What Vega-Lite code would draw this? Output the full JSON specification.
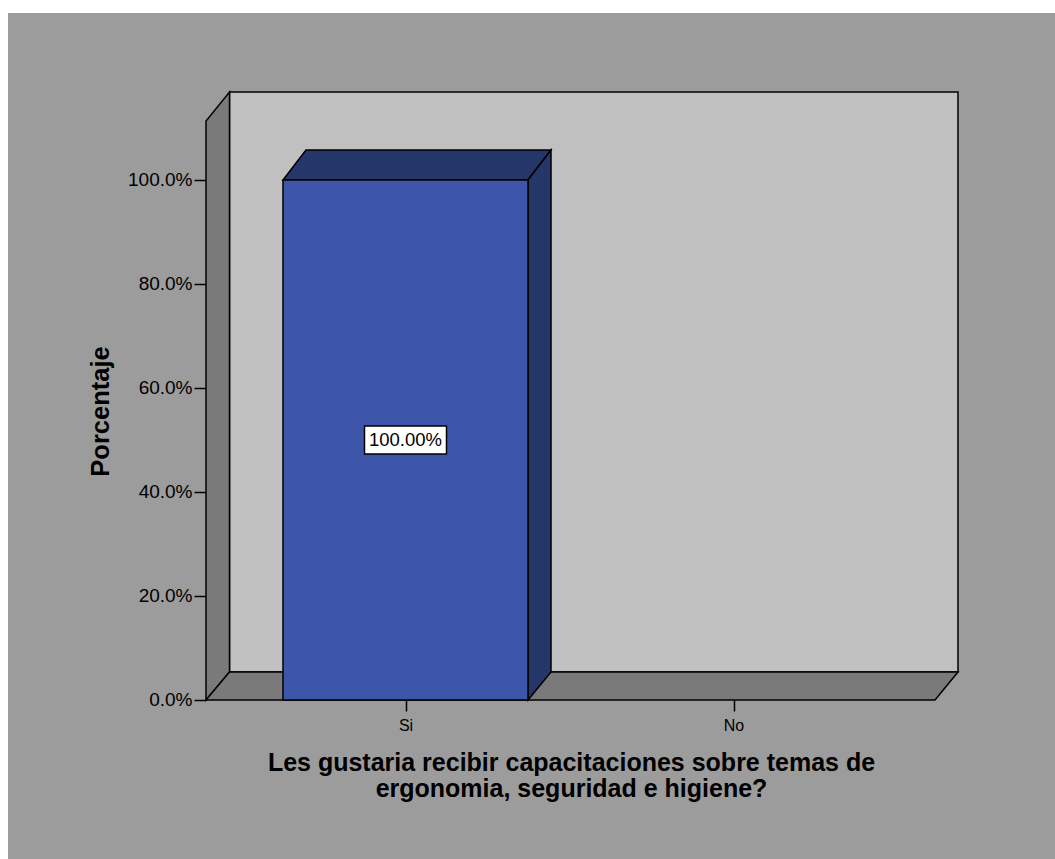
{
  "$schema": "https://vega.github.io/schema/vega-lite/v6.json",
  "width": 1047,
  "height": 846,
  "autosize": "none",
  "padding": {"left": 8, "top": 13, "right": 0, "bottom": 0},
  "background": "white",
  "config": {
    "view": {"fill": "#9c9c9c", "stroke": null},
    "font": "Liberation Sans",
    "axis": {"grid": false, "domain": false}
  },
  "datasets": {
    "respuestas": [
      {"respuesta": "Si", "porcentaje": 1.0},
      {"respuesta": "No", "porcentaje": 0.0}
    ],
    "marco": [
      {"k": 0, "x": 0.39177, "xr": 2.61433, "y": 0, "ytop": 1.11346},
      {"k": 1, "x": 0.46341, "xr": 2.68445, "y": 0.05385, "ytop": 1.16923}
    ]
  },
  "layer": [
    {
      "data": {"name": "marco"},
      "transform": [{"filter": "datum.k == 1"}],
      "mark": {"type": "rect", "fill": "#c0c0c0", "stroke": "black", "strokeWidth": 1.5},
      "encoding": {
        "x": {
          "field": "x", "type": "quantitative",
          "scale": {"domain": [-0.21189, 2.98018], "nice": false, "zero": false},
          "axis": {
            "values": [1, 2],
            "labelExpr": "datum.value == 1 ? 'Si' : 'No'",
            "offset": -159,
            "tickSize": 11, "tickColor": "black", "tickWidth": 1.5,
            "labelFontSize": 16, "labelColor": "black", "labelPadding": 6,
            "labelFont": "Liberation Sans",
            "title": ["Les gustaria recibir capacitaciones sobre temas de", "ergonomia, seguridad e higiene?"],
            "titleFont": "Liberation Sans", "titleFontSize": 25, "titleFontWeight": "bold", "titleColor": "black",
            "titleX": 563, "titleY": 50, "titleAlign": "center", "titleBaseline": "top", "titleLineHeight": 26
          }
        },
        "x2": {"field": "xr"},
        "y": {
          "field": "y", "type": "quantitative",
          "scale": {"domain": [-0.30577, 1.32115], "nice": false, "zero": false},
          "axis": {
            "values": [0, 0.2, 0.4, 0.6, 0.8, 1.0],
            "format": ".1%",
            "offset": -198,
            "tickSize": 12, "tickColor": "black", "tickWidth": 1.5,
            "labelFontSize": 19, "labelColor": "black", "labelPadding": 2,
            "labelFont": "Liberation Sans",
            "title": "Porcentaje",
            "titleFont": "Liberation Sans", "titleFontSize": 25.5, "titleFontWeight": "bold", "titleColor": "black",
            "titleAngle": -90, "titleX": -106, "titleY": 398, "titleAlign": "center", "titleBaseline": "middle"
          }
        },
        "y2": {"field": "ytop"}
      }
    },
    {
      "data": {"name": "marco"},
      "mark": {"type": "area", "orient": "vertical", "fill": "#7a7a7a", "stroke": "black", "strokeWidth": 1.5},
      "encoding": {
        "x": {"field": "x", "type": "quantitative"},
        "y": {"field": "y", "type": "quantitative", "stack": null},
        "y2": {"field": "ytop"}
      }
    },
    {
      "data": {"name": "marco"},
      "mark": {"type": "area", "orient": "horizontal", "fill": "#7a7a7a", "stroke": "black", "strokeWidth": 1.5},
      "encoding": {
        "y": {"field": "y", "type": "quantitative"},
        "x": {"field": "x", "type": "quantitative", "stack": null},
        "x2": {"field": "xr"}
      }
    },
    {
      "data": {"name": "respuestas"},
      "transform": [
        {"filter": "datum.porcentaje > 0"},
        {"calculate": "indexof(['Si','No'], datum.respuesta) + 1", "as": "idx"},
        {"calculate": "[0, 1]", "as": "k"},
        {"flatten": ["k"]},
        {"calculate": "datum.porcentaje + datum.k * 0.05769", "as": "yy"},
        {"calculate": "datum.idx - 0.37348 + datum.k * 0.07012", "as": "xa"},
        {"calculate": "datum.idx + 0.37348 + datum.k * 0.07012", "as": "xb"}
      ],
      "mark": {"type": "area", "orient": "horizontal", "fill": "#253668", "stroke": "black", "strokeWidth": 1.5},
      "encoding": {
        "y": {"field": "yy", "type": "quantitative"},
        "x": {"field": "xa", "type": "quantitative", "stack": null},
        "x2": {"field": "xb"}
      }
    },
    {
      "data": {"name": "respuestas"},
      "transform": [
        {"filter": "datum.porcentaje > 0"},
        {"calculate": "indexof(['Si','No'], datum.respuesta) + 1", "as": "idx"},
        {"calculate": "[0, 1]", "as": "k"},
        {"flatten": ["k"]},
        {"calculate": "datum.idx + 0.37348 + datum.k * 0.07012", "as": "xs"},
        {"calculate": "datum.k * 0.05385", "as": "ylo"},
        {"calculate": "datum.porcentaje + datum.k * 0.05769", "as": "yhi"}
      ],
      "mark": {"type": "area", "orient": "vertical", "fill": "#253668", "stroke": "black", "strokeWidth": 1.5},
      "encoding": {
        "x": {"field": "xs", "type": "quantitative"},
        "y": {"field": "ylo", "type": "quantitative", "stack": null},
        "y2": {"field": "yhi"}
      }
    },
    {
      "data": {"name": "respuestas"},
      "transform": [
        {"filter": "datum.porcentaje > 0"},
        {"calculate": "indexof(['Si','No'], datum.respuesta) + 1", "as": "idx"},
        {"calculate": "datum.idx - 0.37348", "as": "xa"},
        {"calculate": "datum.idx + 0.37348", "as": "xb"}
      ],
      "mark": {"type": "rect", "fill": "#3d56a9", "stroke": "black", "strokeWidth": 1.5},
      "encoding": {
        "x": {"field": "xa", "type": "quantitative"},
        "x2": {"field": "xb"},
        "y": {"field": "porcentaje", "type": "quantitative"},
        "y2": {"datum": 0}
      }
    },
    {
      "data": {"name": "respuestas"},
      "transform": [
        {"filter": "datum.porcentaje > 0"},
        {"calculate": "indexof(['Si','No'], datum.respuesta) + 1", "as": "idx"},
        {"calculate": "datum.porcentaje / 2", "as": "mid"}
      ],
      "mark": {"type": "point", "shape": "M-1,-0.34L1,-0.34L1,0.34L-1,0.34Z", "size": 6724, "filled": true, "fill": "white", "stroke": "black", "strokeWidth": 1.5, "opacity": 1},
      "encoding": {
        "x": {"field": "idx", "type": "quantitative"},
        "y": {"field": "mid", "type": "quantitative"}
      }
    },
    {
      "data": {"name": "respuestas"},
      "transform": [
        {"filter": "datum.porcentaje > 0"},
        {"calculate": "indexof(['Si','No'], datum.respuesta) + 1", "as": "idx"},
        {"calculate": "datum.porcentaje / 2", "as": "mid"}
      ],
      "mark": {"type": "text", "fontSize": 18.5, "color": "black", "font": "Liberation Sans", "align": "center", "baseline": "middle"},
      "encoding": {
        "x": {"field": "idx", "type": "quantitative"},
        "y": {"field": "mid", "type": "quantitative"},
        "text": {"field": "porcentaje", "type": "quantitative", "format": ".2%"}
      }
    },
    {
      "mark": {"type": "rule", "stroke": "#5a5a5a", "strokeWidth": 3},
      "encoding": {
        "x": {"datum": -0.21189, "type": "quantitative"},
        "y": {"datum": -0.30577, "type": "quantitative"},
        "y2": {"datum": 1.32115}
      }
    },
    {
      "mark": {"type": "rule", "stroke": "#5a5a5a", "strokeWidth": 3},
      "encoding": {
        "y": {"datum": 1.32115, "type": "quantitative"},
        "x": {"datum": -0.21189, "type": "quantitative"},
        "x2": {"datum": 2.98018}
      }
    }
  ]
}
